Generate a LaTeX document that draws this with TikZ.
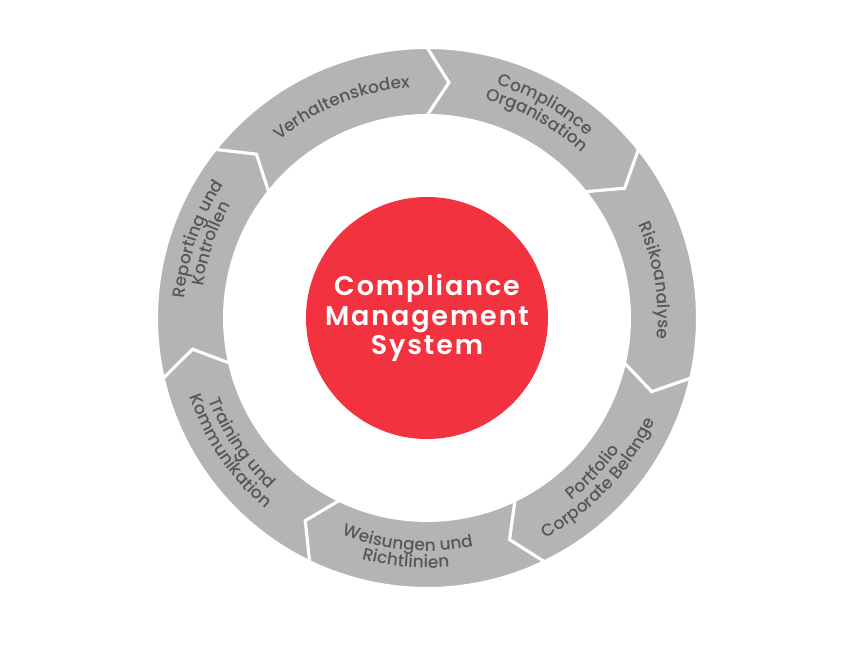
\documentclass[tikz,border=0pt]{standalone}
\usepackage{fontspec}
\setmainfont{Poppins}[BoldFont={Poppins SemiBold}]
\newfontfamily\labelfont{Poppins Medium}
\usepackage{xcolor}
\usepackage{tikz}
\usetikzlibrary{positioning, decorations.text}
\definecolor{cmsred}{HTML}{F3323F}
\definecolor{ringgray}{HTML}{B4B4B4}
\definecolor{labelgray}{HTML}{575757}

% text on an arc of the ring: #1 mid angle, #2 radius, #3 text
\newcommand{\toplabel}[3]{%
  \path[decorate, decoration={text along path, text align=center,
    text={|\labelfont\fontsize{17}{17}\selectfont\color{labelgray}|#3}}]
    (#1+45:#2) arc[start angle=#1+45, end angle=#1-45, radius=#2];}
\newcommand{\bottomlabel}[3]{%
  \path[decorate, decoration={text along path, text align=center,
    text={|\labelfont\fontsize{17}{17}\selectfont\color{labelgray}|#3}}]
    (#1-45:#2) arc[start angle=#1-45, end angle=#1+45, radius=#2];}

\begin{document}
\begin{tikzpicture}[x=1pt, y=1pt]
\tikzstyle{segment} = [fill=ringgray, draw=white, line width=3pt, line join=miter]

\useasboundingbox (-427,-330) rectangle (437,318);

% ring of seven arrows, clockwise from the top
\foreach \i in {0,...,6} {
  \pgfmathsetmacro{\s}{90-\i*360/7}
  \pgfmathsetmacro{\e}{\s-360/7}
  \pgfmathsetmacro{\st}{\s-5.3}
  \pgfmathsetmacro{\et}{\e-5.3}
  \draw[segment] (\s:270.5) arc[start angle=\s, end angle=\e, radius=270.5]
    -- (\et:236.5) -- (\e:202.5)
    arc[start angle=\e, end angle=\s, radius=202.5]
    -- (\st:236.5) -- cycle;
}

\node (cms) [circle, fill=cmsred, minimum size=242pt, inner sep=0pt, text=white, align=center, font=\bfseries\addfontfeature{LetterSpace=7}\fontsize{27}{29.5}\selectfont] at (0,0) {Compliance\\Management\\System};

% labels on the ring
\toplabel{112}{231}{Verhaltenskodex}
\toplabel{61}{243}{Compliance}
\toplabel{61}{226}{Organisation}
\toplabel{9.4}{231}{Risikoanalyse}
\bottomlabel{-43}{233}{Portfolio}
\bottomlabel{-43}{250}{Corporate Belange}
\bottomlabel{-95}{233}{Weisungen und}
\bottomlabel{-95}{250}{Richtlinien}
\bottomlabel{-146}{233}{Training und}
\bottomlabel{-146}{250}{Kommunikation}
\toplabel{161}{243}{Reporting und}
\toplabel{161}{226}{Kontrollen}

\end{tikzpicture}
\end{document}
